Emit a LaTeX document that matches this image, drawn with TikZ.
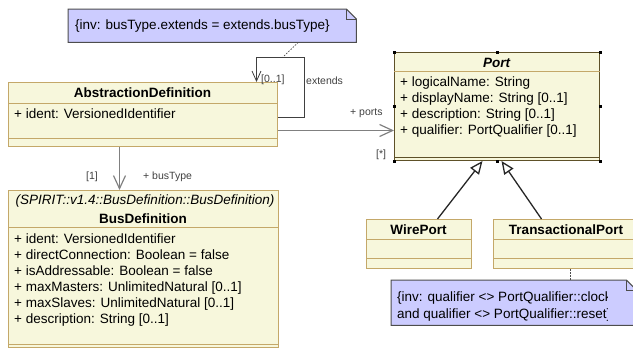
\documentclass[tikz,border=0pt]{standalone}
\usepackage{fontspec}
\setmainfont{Liberation Sans}
\usetikzlibrary{arrows.meta}
\definecolor{classfill}{HTML}{F7F7DC}
\definecolor{classline}{HTML}{C4A869}
\definecolor{portline}{HTML}{5E5128}
\definecolor{notefill}{HTML}{CCCCFF}
\definecolor{noteline}{HTML}{4D4D4D}
\definecolor{linkgray}{HTML}{808080}

\newcommand{\foldnote}[1]{%
  \filldraw[fill=notefill, draw=noteline, line width=1pt] (#1.north west) -- ([xshift=-10pt]#1.north east) -- ([yshift=-10pt]#1.north east) -- (#1.south east) -- (#1.south west) -- cycle;
  \draw[noteline, line width=0.5pt] ([xshift=-10pt]#1.north east) |- ([yshift=-10pt]#1.north east);}

\begin{document}
\begin{tikzpicture}[x=1pt, y=-1pt, font=\fontsize{13.5}{16}\selectfont]
        \tikzstyle{cls} = [rectangle, draw=classline, fill=classfill, anchor=north west, inner sep=0pt, line width=1pt]
        \tikzstyle{sep} = [draw=classline, line width=1pt]
        \tikzstyle{txt} = [anchor=base west, inner sep=0pt]
        \tikzstyle{ttl} = [anchor=base, inner sep=0pt, font=\fontsize{13.5}{16}\selectfont\bfseries]
        \tikzstyle{lbl} = [anchor=base west, inner sep=0pt, text=black!75, font=\fontsize{10.5}{12}\selectfont]
        \tikzstyle{notebox} = [rectangle, anchor=north west, inner sep=0pt]
        \tikzstyle{link} = [draw=linkgray, line width=1.2pt, -{Straight Barb[length=13pt, width=12pt]}]
        \tikzstyle{selfloop} = [draw=black!75, line width=0.8pt, -{Straight Barb[length=10pt, width=9pt]}]
        \tikzstyle{gen} = [draw=black!85, line width=1.3pt, -{Triangle[open, length=13pt, width=11pt, fill=white]}]
        \tikzstyle{dep} = [draw=noteline, line width=0.7pt, dash pattern=on 1.5pt off 1.5pt]

        \clip (0,0) rectangle (633,348);

        \node [notebox, minimum width=288, minimum height=33] (note1) at (68,9) {};
        \foldnote{note1}
        \node [txt] (note1txt) at (75,30) {\{inv: busType.extends = extends.busType\}};

        \node [cls, minimum width=269, minimum height=64] (absdef) at (8,82) {};
        \draw [sep] ([yshift=-21pt]absdef.north west) -- ([yshift=-21pt]absdef.north east);
        \draw [sep] ([yshift=9pt]absdef.south west) -- ([yshift=9pt]absdef.south east);
        \node [ttl] (absdefname) at (142.5,97) {AbstractionDefinition};
        \node [txt] (absdefid) at (14,118) {+ ident: VersionedIdentifier};

        \node [cls, draw=portline, minimum width=205, minimum height=108] (port) at (394,52) {};
        \draw [sep] ([yshift=-19pt]port.north west) -- ([yshift=-19pt]port.north east);
        \draw [sep, draw=portline] ([yshift=4pt]port.south west) -- ([yshift=4pt]port.south east);
        \node [ttl, font=\fontsize{13.5}{16}\selectfont\bfseries\itshape] (portname) at (496.5,67) {Port};
        \node [txt] (portlog) at (400,86) {+ logicalName: String};
        \node [txt] (portdisp) at (400,102) {+ displayName: String [0..1]};
        \node [txt] (portdesc) at (400,118) {+ description: String [0..1]};
        \node [txt] (portqual) at (400,134) {+ qualifier: PortQualifier [0..1]};
        \foreach \a in {north west, north, north east, east, south east, south, south west, west}
            \fill (port.\a) ++(-1.5pt,-1.5pt) rectangle ++(3pt,3pt);

        \node [cls, minimum width=270, minimum height=157] (busdef) at (8,190) {};
        \draw [sep] ([yshift=-37pt]busdef.north west) -- ([yshift=-37pt]busdef.north east);
        \draw [sep] ([yshift=4pt]busdef.south west) -- ([yshift=4pt]busdef.south east);
        \node [ttl, font=\fontsize{13.5}{16}\selectfont\itshape] (busdefpath) at (145,204) {(SPIRIT::v1.4::BusDefinition::BusDefinition)};
        \node [ttl] (busdefname) at (143,223) {BusDefinition};
        \node [txt] (busident) at (14,243) {+ ident: VersionedIdentifier};
        \node [txt] (busdirect) at (14,259) {+ directConnection: Boolean = false};
        \node [txt] (busaddr) at (14,275) {+ isAddressable: Boolean = false};
        \node [txt] (busmasters) at (14,291) {+ maxMasters: UnlimitedNatural [0..1]};
        \node [txt] (busslaves) at (14,307) {+ maxSlaves: UnlimitedNatural [0..1]};
        \node [txt] (busdesc) at (14,323) {+ description: String [0..1]};

        \node [cls, minimum width=105, minimum height=49] (wire) at (366,219) {};
        \draw [sep] ([yshift=-20pt]wire.north west) -- ([yshift=-20pt]wire.north east);
        \draw [sep] ([yshift=11pt]wire.south west) -- ([yshift=11pt]wire.south east);
        \node [ttl] (wirename) at (418.5,234) {WirePort};

        \node [cls, minimum width=146, minimum height=49] (tport) at (493,219) {};
        \draw [sep] ([yshift=-20pt]tport.north west) -- ([yshift=-20pt]tport.north east);
        \draw [sep] ([yshift=11pt]tport.south west) -- ([yshift=11pt]tport.south east);
        \node [ttl] (tportname) at (566,234) {TransactionalPort};

        \node [notebox, minimum width=245, minimum height=45] (note2) at (391,280) {};
        \foldnote{note2}
        \begin{scope}
            \clip (391,280) rectangle (607,325);
            \node [txt] (note2a) at (397,301) {\{inv: qualifier <> PortQualifier::clock};
            \node [txt] (note2b) at (397,318) {and qualifier <> PortQualifier::reset\}};
        \end{scope}

        \coordinate (loopcorner) at (304,57);
        \coordinate (loopmid) at (283,57);
        \draw [selfloop] ([yshift=-3pt]absdef.east) -| (loopcorner) -| ([xshift=113.5pt]absdef.north);
        \draw [dep] ([xshift=86pt]note1.south) -- (loopmid);
        \node [lbl] (extmult) at (261,82) {[0..1]};
        \node [lbl] (extname) at (306,84) {extends};

        \draw [link] ([yshift=-16pt]absdef.east) -- ([yshift=-16pt]absdef.east -| port.west);
        \node [lbl] (portsname) at (350,115) {+ ports};
        \node [lbl] (portsmult) at (376,157) {[*]};

        \draw [link] ([xshift=-23.5pt]absdef.south) -- ([xshift=-23.5pt]absdef.south |- busdef.north);
        \node [lbl] (busmult) at (86,179) {[1]};
        \node [lbl] (busname) at (143,179) {+ busType};

        \draw [gen] ([xshift=18.5pt]wire.north) -- ([xshift=-14.5pt]port.south);
        \draw [gen] ([xshift=-25pt]tport.north) -- ([xshift=4.5pt]port.south);
        \draw [dep] ([xshift=4pt]tport.south) -- ([xshift=4pt]tport.south |- note2.north);
    \end{tikzpicture}
\end{document}
